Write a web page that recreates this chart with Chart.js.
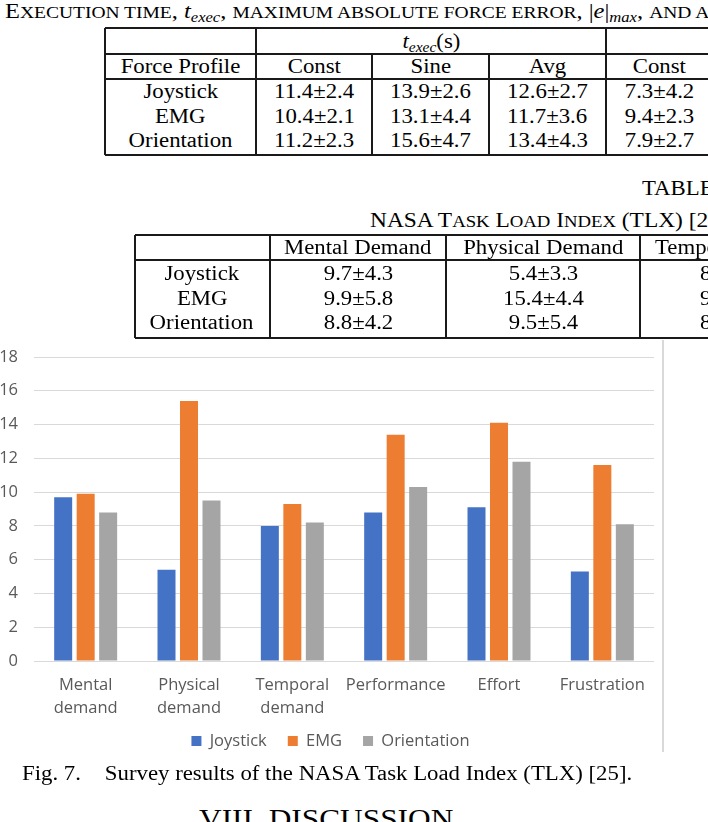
<!DOCTYPE html>
<html>
<head>
<meta charset="utf-8">
<script src="https://cdn.jsdelivr.net/npm/chart.js@4.4.1/dist/chart.umd.min.js"></script>
<style>
html,body{margin:0;padding:0;background:#fff;}
body{width:708px;height:822px;overflow:hidden;position:relative;font-family:"Liberation Serif","Times New Roman",serif;color:#000;}
.txt{position:absolute;white-space:nowrap;line-height:1;}
.txt > span{display:inline-block;white-space:nowrap;}
.sc{font-size:0.8em;}
.sb{font-size:0.68em;font-style:italic;vertical-align:-0.3em;line-height:0;}
.ln{position:absolute;background:#1a1a1a;}
#chartBox{position:absolute;left:-20px;top:330px;width:700px;height:450px;}
#frame{position:absolute;left:662px;top:340px;width:1.5px;height:412px;background:#d9d9d9;}
</style>
</head>
<body>
<div id="chartBox"><canvas id="c" width="700" height="450"></canvas></div>
<div id="frame"></div>
<script>
// ---------- chart data ----------
const categories = [['Mental','demand'],['Physical','demand'],['Temporal','demand'],'Performance','Effort','Frustration'];
const seriesNames = ['Joystick','EMG','Orientation'];
const joystick = [9.7, 5.4, 8.0, 8.8, 9.1, 5.3];
const emg = [9.9, 15.4, 9.3, 13.4, 14.1, 11.6];
const orientation = [8.8, 9.5, 8.2, 10.3, 11.8, 8.1];
const seriesColors = ['#4472C4','#ED7D31','#A5A5A5'];
const yMax = 18;
const yStep = 2;

// ---------- table data ----------
const t1Methods = ['Joystick','EMG','Orientation'];
const t1Profiles = ['Const','Sine','Avg','Const'];
const t1Const = ['11.4±2.4','10.4±2.1','11.2±2.3'];
const t1Sine = ['13.9±2.6','13.1±4.4','15.6±4.7'];
const t1Avg = ['12.6±2.7','11.7±3.6','13.4±4.3'];
const t1Err = ['7.3±4.2','9.4±2.3','7.9±2.7'];
const t2Methods = ['Joystick','EMG','Orientation'];
const t2Headers = ['Mental Demand','Physical Demand','Temporal Demand'];
const t2Mental = ['9.7±4.3','9.9±5.8','8.8±4.2'];
const t2Physical = ['5.4±3.3','15.4±4.4','9.5±5.4'];
const t2Temporal = ['8.0','9.3','8.2'];

// ---------- text helpers ----------
const K = 1.14, FS = 20;
function text(html, x, cy, opt) {
  opt = opt || {};
  const fs = opt.fs || FS, k = opt.k || K;
  const d = document.createElement('div');
  d.className = 'txt';
  d.style.fontSize = fs + 'px';
  d.style.top = (cy - fs / 2) + 'px';
  const s = document.createElement('span');
  s.innerHTML = html;
  if (opt.left) {
    d.style.left = x + 'px';
    s.style.transformOrigin = 'left center';
  } else {
    d.style.left = (x - 300) + 'px';
    d.style.width = '600px';
    d.style.textAlign = 'center';
    s.style.transformOrigin = 'center center';
  }
  s.style.transform = 'scaleX(' + k + ')';
  d.appendChild(s);
  document.body.appendChild(d);
}
function hline(x1, x2, y) {
  const d = document.createElement('div'); d.className = 'ln';
  d.style.left = x1 + 'px'; d.style.top = (y - 0.75) + 'px';
  d.style.width = (x2 - x1) + 'px'; d.style.height = '1.5px';
  document.body.appendChild(d);
}
function vline(x, y1, y2) {
  const d = document.createElement('div'); d.className = 'ln';
  d.style.left = (x - 0.75) + 'px'; d.style.top = y1 + 'px';
  d.style.width = '1.5px'; d.style.height = (y2 - y1) + 'px';
  document.body.appendChild(d);
}

// ---------- table 1 ----------
text('E<span class="sc">XECUTION TIME</span>, <i>t</i><span class="sb">exec</span>, <span class="sc">MAXIMUM ABSOLUTE FORCE ERROR</span>, |<i>e</i>|<span class="sb">max</span>, <span class="sc">AND A</span>', 5, 11, {left: true, fs: 20.5, k: 1.19});
[28, 54, 79, 155].forEach(y => hline(105, 720, y));
[105, 256, 606].forEach(x => vline(x, 28, 155));
[372, 489].forEach(x => vline(x, 54, 155));
text('<i>t</i><span class="sb">exec</span>(s)', 431, 41);
const t1ColC = [314, 430.5, 547.5, 659];
text('Force Profile', 180.5, 66);
t1Profiles.forEach((p, i) => text(p, t1ColC[i], 66));
const t1RowY = [91, 116, 140];
t1Methods.forEach((m, r) => {
  text(m, 180.5, t1RowY[r]);
  text(t1Const[r], t1ColC[0], t1RowY[r]);
  text(t1Sine[r], t1ColC[1], t1RowY[r]);
  text(t1Avg[r], t1ColC[2], t1RowY[r]);
  text(t1Err[r], t1ColC[3], t1RowY[r]);
});

// ---------- table 2 ----------
text('TABLE', 642, 188, {left: true});
text('NASA T<span class="sc">ASK</span> L<span class="sc">OAD</span> I<span class="sc">NDEX</span> (TLX) [25]', 370, 220, {left: true, k: 1.17});
[235, 260, 338].forEach(y => hline(135, 720, y));
[135, 270, 446, 640].forEach(x => vline(x, 235, 338));
const t2ColC = [358, 543];
text(t2Headers[0], t2ColC[0], 247);
text(t2Headers[1], t2ColC[1], 247);
text(t2Headers[2], 655, 247, {left: true});
const t2RowY = [273, 298, 322];
t2Methods.forEach((m, r) => {
  text(m, 202, t2RowY[r]);
  text(t2Mental[r], t2ColC[0], t2RowY[r]);
  text(t2Physical[r], t2ColC[1], t2RowY[r]);
  text(t2Temporal[r], 700, t2RowY[r], {left: true});
});

// ---------- caption & heading ----------
text('Fig. 7.<span style="display:inline-block;width:21px"></span>Survey results of the NASA Task Load Index (TLX) [25].', 22, 773, {left: true});
text('VIII. DISCUSSION', 199, 818.5, {left: true, fs: 27.5});

// ---------- chart ----------
const FONT = {family: '"Open Sans", sans-serif', size: 16.5};
const noLabelClip = {
  id: 'noLabelClip',
  afterLayout(chart) {
    Object.values(chart.scales).forEach(s => { s._computeLabelArea = () => null; });
  }
};
new Chart(document.getElementById('c'), {
  type: 'bar',
  data: {
    labels: categories,
    datasets: [
      {label: seriesNames[0], data: joystick, backgroundColor: seriesColors[0]},
      {label: seriesNames[1], data: emg, backgroundColor: seriesColors[1]},
      {label: seriesNames[2], data: orientation, backgroundColor: seriesColors[2]}
    ]
  },
  plugins: [noLabelClip],
  options: {
    responsive: false,
    animation: false,
    datasets: {bar: {categoryPercentage: 0.653, barPercentage: 0.8}},
    layout: {padding: {left: 27, right: 26, top: 27, bottom: 20.75}},
    plugins: {
      legend: {
        position: 'bottom',
        labels: {boxWidth: 10, boxHeight: 10, padding: 21, color: '#595959', font: FONT}
      },
      tooltip: {enabled: false}
    },
    scales: {
      x: {
        grid: {display: false, drawTicks: false},
        border: {display: false},
        ticks: {color: '#595959', font: Object.assign({lineHeight: 1.375}, FONT), padding: 13, maxRotation: 0, autoSkip: false},
        afterFit: s => { s.height = 50.75; }
      },
      y: {
        min: 0, max: yMax,
        ticks: {stepSize: yStep, padding: 16, color: '#595959', font: FONT},
        grid: {color: '#d9d9d9', drawTicks: false, lineWidth: 1},
        border: {display: false},
        afterFit: s => { s.width = 27; }
      }
    }
  }
});
</script>
</body>
</html>
